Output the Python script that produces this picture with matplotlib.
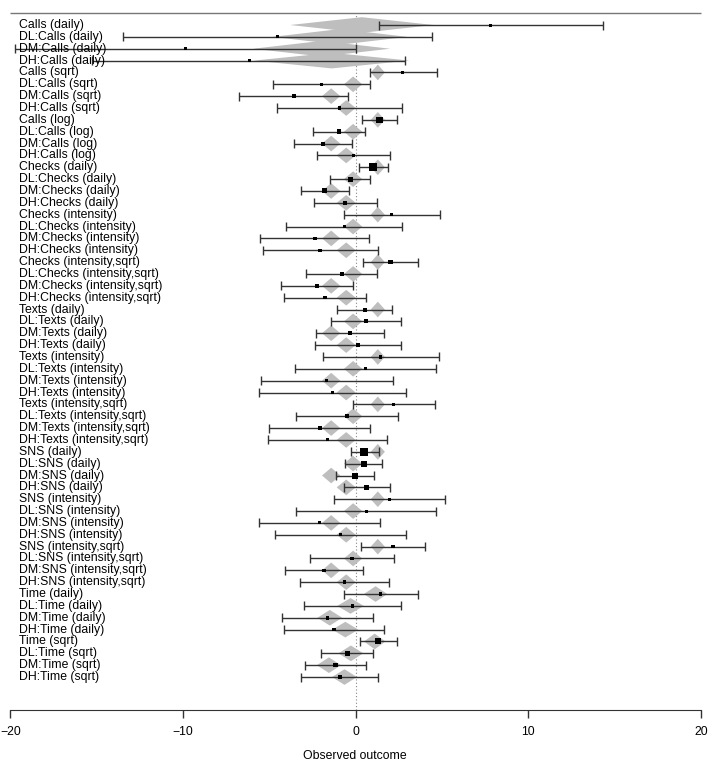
import matplotlib
matplotlib.use("Agg")
import matplotlib.pyplot as plt
from matplotlib.patches import Polygon

plt.rcParams['font.family'] = ['Liberation Sans', 'DejaVu Sans']

# study rows, top to bottom
labels = [
    "Calls (daily)", "DL:Calls (daily)", "DM:Calls (daily)", "DH:Calls (daily)",
    "Calls (sqrt)", "DL:Calls (sqrt)", "DM:Calls (sqrt)", "DH:Calls (sqrt)",
    "Calls (log)", "DL:Calls (log)", "DM:Calls (log)", "DH:Calls (log)",
    "Checks (daily)", "DL:Checks (daily)", "DM:Checks (daily)", "DH:Checks (daily)",
    "Checks (intensity)", "DL:Checks (intensity)", "DM:Checks (intensity)", "DH:Checks (intensity)",
    "Checks (intensity,sqrt)", "DL:Checks (intensity,sqrt)", "DM:Checks (intensity,sqrt)", "DH:Checks (intensity,sqrt)",
    "Texts (daily)", "DL:Texts (daily)", "DM:Texts (daily)", "DH:Texts (daily)",
    "Texts (intensity)", "DL:Texts (intensity)", "DM:Texts (intensity)", "DH:Texts (intensity)",
    "Texts (intensity,sqrt)", "DL:Texts (intensity,sqrt)", "DM:Texts (intensity,sqrt)", "DH:Texts (intensity,sqrt)",
    "SNS (daily)", "DL:SNS (daily)", "DM:SNS (daily)", "DH:SNS (daily)",
    "SNS (intensity)", "DL:SNS (intensity)", "DM:SNS (intensity)", "DH:SNS (intensity)",
    "SNS (intensity,sqrt)", "DL:SNS (intensity,sqrt)", "DM:SNS (intensity,sqrt)", "DH:SNS (intensity,sqrt)",
    "Time (daily)", "DL:Time (daily)", "DM:Time (daily)", "DH:Time (daily)",
    "Time (sqrt)", "DL:Time (sqrt)", "DM:Time (sqrt)", "DH:Time (sqrt)",
]

est = [7.82, -4.52, -9.88, -6.16,
       2.72, -1.99, -3.57, -0.95,
       1.37, -0.98, -1.91, -0.12,
       1.00, -0.33, -1.80, -0.60,
       2.08, -0.66, -2.37, -2.07,
       2.02, -0.81, -2.24, -1.78,
       0.52, 0.58, -0.33, 0.14,
       1.45, 0.56, -1.68, -1.35,
       2.20, -0.50, -2.08, -1.62,
       0.50, 0.46, -0.04, 0.64,
       1.95, 0.60, -2.12, -0.89,
       2.16, -0.21, -1.83, -0.64,
       1.45, -0.19, -1.62, -1.27,
       1.31, -0.48, -1.18, -0.93]

ci_lo = [1.37, -13.46, -19.75, -15.30,
         0.80, -4.81, -6.74, -4.58,
         0.35, -2.49, -3.57, -2.22,
         0.17, -1.51, -3.17, -2.43,
         -0.69, -4.03, -5.54, -5.39,
         0.44, -2.88, -4.31, -4.13,
         -1.06, -1.45, -2.32, -2.34,
         -1.89, -3.53, -5.50, -5.58,
         -0.17, -3.46, -5.00, -5.06,
         -0.29, -0.64, -1.12, -0.69,
         -1.25, -3.46, -5.62, -4.67,
         0.31, -2.63, -4.09, -3.22,
         -0.68, -2.97, -4.27, -4.17,
         0.25, -1.99, -2.93, -3.17]

ci_hi = [14.30, 4.44, 0.03, 2.88,
         4.69, 0.85, -0.42, 2.70,
         2.39, 0.52, -0.23, 1.99,
         1.87, 0.85, -0.39, 1.25,
         4.86, 2.70, 0.77, 1.27,
         3.63, 1.24, -0.17, 0.58,
         2.12, 2.61, 1.64, 2.63,
         4.81, 4.67, 2.14, 2.90,
         4.61, 2.45, 0.85, 1.81,
         1.33, 1.54, 1.04, 1.97,
         5.17, 4.67, 1.39, 2.90,
         4.03, 2.20, 0.42, 1.95,
         3.59, 2.61, 1.02, 1.64,
         2.37, 1.02, 0.62, 1.31]

# fitted values (diamonds) and their half-widths
fit = [0.35, -0.91, -1.97, -1.39] + [1.28, -0.15, -1.42, -0.55] * 11 + \
      [1.15, -0.30, -1.50, -0.60, 1.10, -0.28, -1.55, -0.65]
fit_hw = [4.15, 3.90, 3.96, 4.50] + [0.41, 0.53, 0.53, 0.55] * 11 + \
         [0.68, 0.77, 0.72, 0.75, 0.62, 0.72, 0.70, 0.72]

# relative study weights (square size)
weights = [3, 3, 3, 3,
           3.5, 3.5, 3.5, 3.5,
           6.7, 4.5, 4, 3.5,
           8, 5, 5, 4,
           3.5, 3.5, 3.5, 3.5,
           4.5, 4, 4, 3.5,
           4, 4, 4, 3.5,
           3.5, 3, 3, 3,
           3.5, 3.5, 3.5, 3,
           8, 6, 6, 5,
           3, 3, 3, 3,
           3.5, 3.5, 3.5, 3.5,
           3.5, 3.5, 3.5, 3.5,
           6, 4.5, 4.5, 4]

k = len(labels)
rows = list(range(k, 0, -1))

fig = plt.figure(figsize=(7.09, 7.62), dpi=100)
ax = fig.add_axes([0, 52 / 762, 1, 710 / 762])
ax.set_xlim(-20.6, 20.46)
ax.set_ylim(-1.78, k + 2.11)

# diamonds for fitted values
for y, f, hw in zip(rows, fit, fit_hw):
    h = 0.66
    ax.add_patch(Polygon([(f - hw, y), (f, y + h), (f + hw, y), (f, y - h)],
                         closed=True, facecolor="#bebebe", edgecolor="none", zorder=1))

# confidence intervals
ax.hlines(rows, ci_lo, ci_hi, color="#333333", lw=1.0, zorder=2)
ax.vlines(ci_lo, [r - 0.38 for r in rows], [r + 0.38 for r in rows], color="#333333", lw=1.0, zorder=2)
ax.vlines(ci_hi, [r - 0.38 for r in rows], [r + 0.38 for r in rows], color="#333333", lw=1.0, zorder=2)

ax.scatter(est, rows, marker="s", s=[(w * 0.72) ** 2 for w in weights],
           color="black", linewidths=0, zorder=3)

for y, lab in zip(rows, labels):
    ax.text(-19.5, y, lab, ha="left", va="center", fontsize=8.8, color="black", zorder=4)

# reference line and top rule
ax.vlines(0, -1.78, k + 1, color="#888888", lw=0.8, linestyles=(0, (1, 2)), zorder=0)
ax.hlines(k + 1, -20, 20, color="#777777", lw=1.0)

for side in ["top", "right", "left"]:
    ax.spines[side].set_visible(False)
ax.spines["bottom"].set_bounds(-20, 20)
ax.spines["bottom"].set_color("#333333")
ax.set_yticks([])
ax.set_xticks([-20, -10, 0, 10, 20])
ax.tick_params(axis="x", direction="out", length=5.5, width=1, color="#333333",
               labelsize=8.8, pad=6)
ax.set_xlabel("Observed outcome", fontsize=8.8, labelpad=9)

fig.savefig("out.png", dpi=100)
